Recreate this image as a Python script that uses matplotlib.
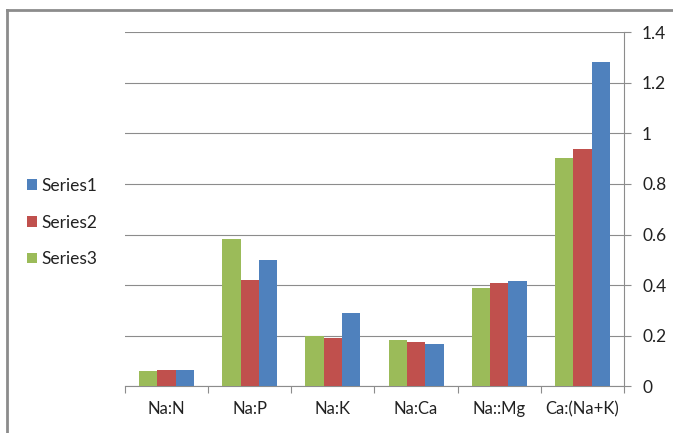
import matplotlib.pyplot as plt
import numpy as np
from matplotlib.lines import Line2D

categories = ["Na:N", "Na:P", "Na:K", "Na:Ca", "Na::Mg", "Ca:(Na+K)"]
series1 = [0.064, 0.498, 0.289, 0.165, 0.414, 1.282]
series2 = [0.064, 0.419, 0.190, 0.173, 0.408, 0.937]
series3 = [0.060, 0.581, 0.198, 0.183, 0.389, 0.902]
yticks = [0, 0.2, 0.4, 0.6, 0.8, 1, 1.2, 1.4]

plt.rcParams["font.family"] = ["Lato", "DejaVu Sans"]

fig = plt.figure(figsize=(6.73, 4.33), dpi=100)
ax = fig.add_axes([0.1857, 0.1085, 0.7415, 0.8165])

x = np.arange(len(categories))
width = 0.221

# drawn left to right: Series3, Series2, Series1
b3 = ax.bar(x - width, series3, width, color="#9BBB59", label="Series3", zorder=3)
b2 = ax.bar(x, series2, width, color="#C0504D", label="Series2", zorder=3)
b1 = ax.bar(x + width, series1, width, color="#4F81BD", label="Series1", zorder=3)

ax.set_xlim(-0.5, len(categories) - 0.5)
ax.set_ylim(0, 1.4)

ax.yaxis.tick_right()
ax.set_yticks(yticks)
ax.set_yticklabels([f"{t:g}" for t in yticks])
ax.grid(axis="y", color="#8c8c8c", linewidth=0.8, zorder=0)

# category labels between boundary tick marks
ax.set_xticks(np.arange(len(categories) + 1) - 0.5)
ax.set_xticklabels([])
ax.set_xticks(x, minor=True)
ax.set_xticklabels(categories, minor=True)
ax.tick_params(axis="x", which="major", length=5, color="#8c8c8c", direction="out")
ax.tick_params(axis="x", which="minor", length=0, pad=11, labelsize=12,
               labelcolor="#222222")
ax.tick_params(axis="y", length=5, color="#8c8c8c", pad=8, labelsize=12.5,
               labelcolor="#222222")

for side in ["top", "left"]:
    ax.spines[side].set_visible(False)
for side in ["right", "bottom"]:
    ax.spines[side].set_color("#8c8c8c")
    ax.spines[side].set_linewidth(0.8)

ax.legend(
    [b1, b2, b3],
    ["Series1", "Series2", "Series3"],
    loc="center left",
    bbox_to_anchor=(0.03, 0.486),
    bbox_transform=fig.transFigure,
    borderaxespad=0,
    frameon=False,
    handlelength=0.55,
    handleheight=0.55,
    handletextpad=0.3,
    labelspacing=1.2,
    fontsize=12.5,
    labelcolor="#222222",
)

# chart frame: only the top and left edges fall inside the image
frame = dict(transform=fig.transFigure, color="#8c8c8c", linewidth=2.0)
fig.lines.append(Line2D([0.0104, 1.0], [0.977, 0.977], **frame))
fig.lines.append(Line2D([0.0104, 0.0104], [0.0, 0.977], **frame))

plt.savefig("out.png", dpi=100)
plt.close()
